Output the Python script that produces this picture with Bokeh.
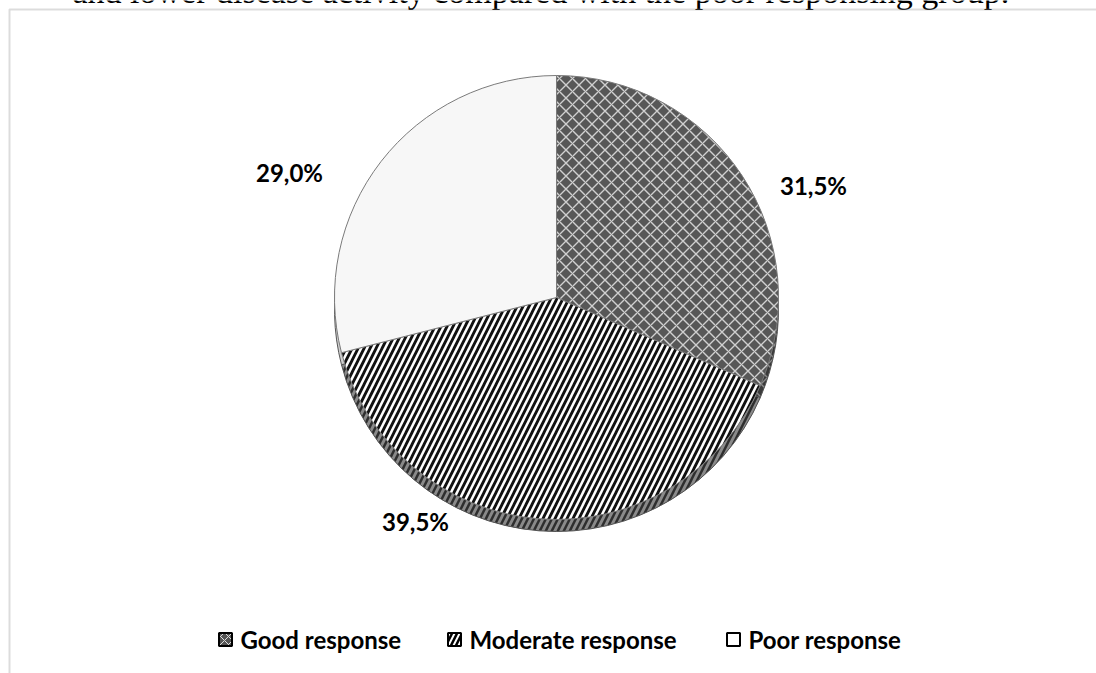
import numpy as np
from bokeh.plotting import figure
from bokeh.models import Range1d, ColumnDataSource, BoxAnnotation
from bokeh.core.properties import value
from bokeh.embed import file_html
from bokeh.resources import INLINE

categories = ["Good response", "Moderate response", "Poor response"]
shares = [31.5, 39.5, 29.0]
labels = ["31,5%", "39,5%", "29,0%"]
caption = "and lower disease activity compared with the poor responsing group."

W, H = 1096, 673
p = figure(width=W, height=H, x_range=Range1d(0, W), y_range=Range1d(0, H),
           output_backend="svg", toolbar_location=None, min_border=0,
           x_axis_location=None, y_axis_location=None, background_fill_color="white",
           border_fill_color="white", outline_line_color=None)
p.xgrid.visible = False
p.ygrid.visible = False

# cropped caption line from the page above the chart (only its lower edge shows)
p.text(x=[72], y=[H + 9], text=[caption], text_font=value("Liberation Serif"),
       text_font_size="34px", text_baseline="alphabetic", text_align="left", text_color="black")

# chart frame (only top and left edges visible)
p.add_layout(BoxAnnotation(left=9, right=W + 50, top=H - 9, bottom=-50,
                           fill_color=None, line_color="#8a8a8a", line_width=2))

cx, cy, r, depth = 556, H - 297, 222, 12
frac = np.array(shares) / sum(shares)
cum = np.concatenate([[0], np.cumsum(frac)])
start = np.pi / 2 - cum[:-1] * 2 * np.pi
end = np.pi / 2 - cum[1:] * 2 * np.pi

fills = ["#575757", "#ffffff", "#f7f7f7"]
hatches = ["diagonal_cross", "right_diagonal_line", " "]
hcolors = ["#d0d0d0", "#111111", "#ffffff"]
hscales = [13, 12, 1]
hweights = [1.4, 2.8, 0.1]
side_fills = ["#3a3a3a", "#2e2e2e", "#cfcfcf"]
side_hcolors = ["#8a8a8a", "#8a8a8a", "#cfcfcf"]

side = ColumnDataSource(dict(x=[cx] * 3, y=[cy - depth] * 3, s=list(start), e=list(end),
                             f=side_fills, h=hatches, hc=side_hcolors, hs=hscales, hw=hweights))
p.wedge(x="x", y="y", radius=r, start_angle="s", end_angle="e", direction="clock",
        fill_color="f", hatch_pattern="h", hatch_color="hc", hatch_scale="hs", hatch_weight="hw",
        line_color="#555555", line_width=1, source=side)

top = ColumnDataSource(dict(x=[cx] * 3, y=[cy] * 3, s=list(start), e=list(end), cat=categories,
                            f=fills, h=hatches, hc=hcolors, hs=hscales, hw=hweights))
p.wedge(x="x", y="y", radius=r, start_angle="s", end_angle="e", direction="clock",
        fill_color="f", hatch_pattern="h", hatch_color="hc", hatch_scale="hs", hatch_weight="hw",
        line_color="#7a7a7a", line_width=1, source=top)

# percentage labels
lab = ColumnDataSource(dict(x=[813, 415, 289], y=[H - 185, H - 521, H - 172], t=labels))
p.text(x="x", y="y", text="t", source=lab, text_font=value("Lato"), text_font_style="bold",
       text_font_size="24px", text_align="center", text_baseline="middle", text_color="black")

# legend
ly = H - 639
lx_marker = [225, 454, 733]
lx_text = [240, 469, 748]
leg = ColumnDataSource(dict(x=lx_marker, y=[ly] * 3, f=["#555555", "#ffffff", "#ffffff"],
                            h=["diagonal_cross", "right_diagonal_line", " "],
                            hc=["#dddddd", "#000000", "#ffffff"], hs=[8, 10, 1], hw=[1, 2.5, 0.1]))
p.rect(x="x", y="y", width=13, height=13, fill_color="f", hatch_pattern="h", hatch_color="hc",
       hatch_scale="hs", hatch_weight="hw", line_color="black", line_width=2, source=leg)
legt = ColumnDataSource(dict(x=lx_text, y=[ly] * 3, t=categories))
p.text(x="x", y="y", text="t", source=legt, text_font=value("Lato"), text_font_style="bold",
       text_font_size="24px", text_align="left", text_baseline="middle", text_color="black")

open("out.html", "w").write(file_html(p, INLINE))
